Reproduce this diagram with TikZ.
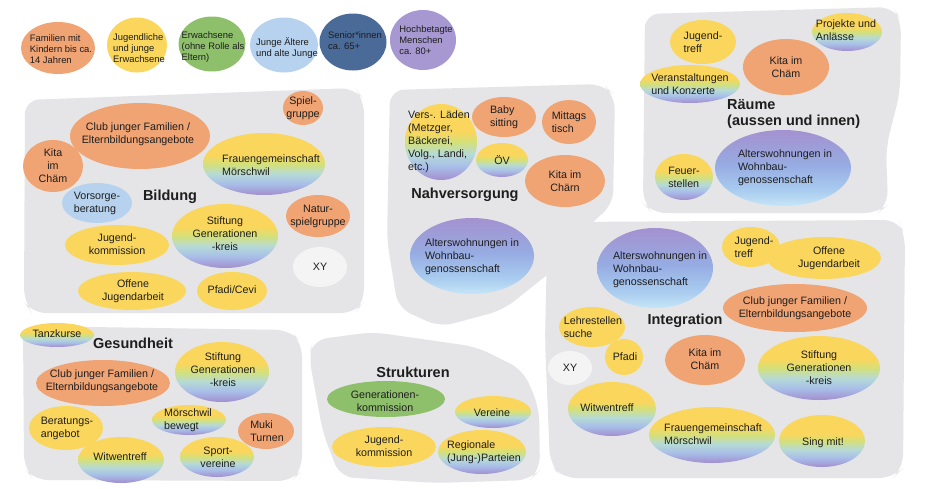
\documentclass[tikz,border=0pt]{standalone}
\usepackage{fontspec}
\setmainfont{Liberation Sans}
\usetikzlibrary{shapes.geometric}

\definecolor{corange}{RGB}{240,163,115}
\definecolor{cyellow}{RGB}{250,214,92}
\definecolor{cgreen}{RGB}{142,192,108}
\definecolor{clblue}{RGB}{182,210,238}
\definecolor{cdblue}{RGB}{74,106,152}
\definecolor{clav}{RGB}{168,152,210}
\definecolor{cgray}{RGB}{229,229,231}
\definecolor{cwhite}{RGB}{244,244,244}
\definecolor{ctext}{RGB}{30,30,30}
\definecolor{rpurple}{RGB}{162,142,206}
\definecolor{rblue}{RGB}{168,190,232}
\definecolor{rcyan}{RGB}{182,218,214}
\definecolor{rgreen}{RGB}{212,224,122}
\definecolor{apale}{RGB}{198,229,246}
\definecolor{alblue}{RGB}{170,205,240}
\definecolor{amblue}{RGB}{150,172,226}
\definecolor{apurple}{RGB}{164,145,208}

\pgfdeclareverticalshading{rainbow}{100bp}{color(0bp)=(rpurple); color(25bp)=(rpurple); color(34bp)=(rblue); color(42bp)=(rcyan); color(50bp)=(rgreen); color(57bp)=(cyellow); color(75bp)=(cyellow); color(100bp)=(cyellow)}
\pgfdeclareverticalshading{bluepurple}{100bp}{color(0bp)=(apale); color(25bp)=(apale); color(35bp)=(alblue); color(52bp)=(amblue); color(75bp)=(apurple); color(100bp)=(apurple)}

\tikzset{
  bub/.style={ellipse, inner sep=0pt, outer sep=0pt, draw=none},
  org/.style={fill=corange},
  ylw/.style={fill=cyellow},
  grn/.style={fill=cgreen},
  lbl/.style={fill=clblue},
  dbl/.style={fill=cdblue},
  lav/.style={fill=clav},
  xyb/.style={fill=cwhite},
  rnb/.style={shade, shading=rainbow},
  apt/.style={shade, shading=bluepurple},
  tx/.style={font=\fontsize{10.7}{13}\selectfont, align=center, text=ctext, inner sep=0pt},
  txl/.style={tx, align=left},
  hdr/.style={font=\fontsize{9.4}{10.8}\selectfont, align=left, text=ctext, inner sep=0pt},
  ttl/.style={font=\bfseries\fontsize{14.5}{16}\selectfont, text=ctext, inner sep=0pt, align=left},
  blob/.style={fill=cgray, rounded corners=14pt},
}
\newcommand\bubble[8]{%
  \node[bub,#1,minimum width=#4pt,minimum height=#5pt] (#2) at (#3) {};
  \node[#6] (#2-t) at (#7) {#8};}

\begin{document}
\begin{tikzpicture}[x=1pt,y=-1pt]
\useasboundingbox (0,0) rectangle (934,488);
\fill[white] (0,0) rectangle (934,488);

% ---------- header ----------
\bubble{org}{hfam}{58,48}{74}{52}{hdr}{61,49}{Familien mit\\Kindern bis ca.\\14 Jahren}
\bubble{ylw}{hjug}{137,45}{60}{55}{hdr}{139,48}{Jugendliche\\und junge\\Erwachsene}
\bubble{grn}{herw}{212,44}{67}{55}{hdr}{213,47}{Erwachsene\\(ohne Rolle als\\Eltern)}
\bubble{lbl}{hja}{284,45}{68}{55}{hdr}{287,48}{Junge Ältere\\und alte Junge}
\bubble{dbl}{hsen}{353,42}{67}{57}{hdr}{355,41}{Senior*innen\\ca. 65+}
\bubble{lav}{hhoch}{423,40}{66}{60}{hdr}{426,40}{Hochbetagte\\Menschen\\ca. 80+}

% ---------- blobs ----------
\fill[blob] (25,100) -- (355,88) -- (364,100) -- (364,302) -- (355,313) -- (32,313) -- (24,302) -- cycle;
\fill[blob] (390,90) -- (603,84) -- (615,96) -- (613,205) -- (592,222) -- (557,267) -- (503,310) -- (440,327) -- (398,308) -- (387,240) -- cycle;
\fill[blob] (645,14) -- (893,7) -- (901,20) -- (900,92) -- (886,148) -- (888,205) -- (878,213) -- (652,213) -- (643,203) -- cycle;
\fill[blob] (565,222) -- (898,220) -- (905,235) -- (903,468) -- (893,478) -- (562,478) -- (550,464) -- (545,340) -- (547,248) -- cycle;
\fill[blob] (23,326) -- (290,330) -- (302,343) -- (302,470) -- (292,481) -- (34,480) -- (24,468) -- cycle;
\fill[blob] (313,340) -- (373,332) -- (477,347) -- (523,370) -- (539,407) -- (540,470) -- (530,480) -- (437,483) -- (340,477) -- (323,433) -- (309,357) -- cycle;

% ---------- Bildung ----------
\bubble{org}{bclub}{140,136}{140}{66}{tx}{138,134}{Club junger Familien /\\Elternbildungsangebote}
\bubble{org}{bkita}{53,166}{60}{52}{tx}{53,166}{Kita\\im\\Chäm}
\bubble{org}{bspiel}{303,108}{40}{34}{tx}{303,108}{Spiel-\\gruppe}
\bubble{rnb}{bfrau}{264,164}{122}{62}{txl}{271,165}{Frauengemeinschaft\\Mörschwil}
\node[ttl] (bildung) at (170,197) {Bildung};
\bubble{lbl}{bvor}{97,203}{70}{40}{txl}{97,203}{Vorsorge-\\beratung}
\bubble{org}{bnatur}{318,216}{64}{42}{tx}{318,216}{Natur-\\spielgruppe}
\bubble{rnb}{bstift}{225,236}{106}{64}{tx}{225,234}{Stiftung\\Generationen\\-kreis}
\bubble{ylw}{bjk}{117,245}{104}{40}{tx}{117,244}{Jugend-\\kommission}
\bubble{xyb}{bxy}{320,267}{54}{40}{tx}{320,267}{XY}
\bubble{ylw}{boja}{132,291}{108}{38}{tx}{133,291}{Offene\\Jugendarbeit}
\bubble{ylw}{bpfadi}{232,291}{70}{38}{tx}{232,290}{Pfadi/Cevi}

% ---------- Nahversorgung ----------
\bubble{rnb}{nvers}{441,142}{72}{76}{txl}{439,142}{Vers-. Läden\\(Metzger,\\Bäckerei,\\Volg., Landi,\\etc.)}
\bubble{org}{nbaby}{504,117}{64}{40}{txl}{504,117}{Baby\\sitting}
\bubble{org}{nmittag}{569,122}{54}{44}{txl}{569,122}{Mittags\\tisch}
\bubble{rnb}{nov}{502,160}{52}{34}{tx}{502,160}{ÖV}
\bubble{org}{nkita}{565,181}{80}{52}{tx}{565,181}{Kita im\\Chärn}
\node[ttl] (nahv) at (465,195) {Nahversorgung};
\bubble{apt}{nalt}{472,256}{124}{76}{txl}{472,257}{Alterswohnungen in\\Wohnbau-\\genossenschaft}

% ---------- Räume ----------
\bubble{ylw}{rjt}{703,42}{66}{44}{txl}{703,42}{Jugend-\\treff}
\bubble{rnb}{rproj}{847,32}{70}{38}{txl}{846,30}{Projekte und\\Anlässe}
\bubble{org}{rkita}{786,67}{86}{56}{tx}{786,67}{Kita im\\Chäm}
\bubble{rnb}{rver}{690,84}{100}{38}{txl}{690,84}{Veranstaltungen\\und Konzerte}
\node[ttl, anchor=west] (raeume) at (727,114) {Räume\\(aussen und innen)};
\bubble{apt}{ralt}{783,168}{136}{76}{txl}{785,168}{Alterswohnungen in\\Wohnbau-\\genossenschaft}
\bubble{rnb}{rfeuer}{684,177}{58}{46}{txl}{684,177}{Feuer-\\stellen}

% ---------- Integration ----------
\bubble{apt}{ialt}{655,268}{116}{80}{txl}{660,270}{Alterswohnungen in\\Wohnbau-\\genossenschaft}
\bubble{ylw}{ijt}{751,247}{58}{40}{txl}{754,247}{Jugend-\\treff}
\bubble{ylw}{ioja}{824,258}{114}{42}{tx}{829,258}{Offene\\Jugendarbeit}
\bubble{org}{iclub}{795,308}{144}{48}{tx}{795,308}{Club junger Familien /\\Elternbildungsangebote}
\node[ttl] (integ) at (685,321) {Integration};
\bubble{ylw}{ileh}{592,327}{66}{40}{txl}{593,327}{Lehrestellen\\suche}
\bubble{ylw}{ipfadi}{624,357}{38}{36}{tx}{625,357}{Pfadi}
\bubble{xyb}{ixy}{570,368}{44}{34}{tx}{570,368}{XY}
\bubble{org}{ikita}{705,360}{80}{50}{tx}{705,359}{Kita im\\Chäm}
\bubble{rnb}{istift}{819,368}{122}{64}{tx}{819,368}{Stiftung\\Generationen\\-kreis}
\bubble{rnb}{iwit}{612,409}{88}{54}{tx}{607,408}{Witwentreff}
\bubble{rnb}{ifrau}{712,435}{126}{56}{txl}{713,434}{Frauengemeinschaft\\Mörschwil}
\bubble{rnb}{ising}{822,441}{86}{52}{tx}{823,443}{Sing mit!}

% ---------- Gesundheit ----------
\bubble{rnb}{gtanz}{57,335}{74}{24}{tx}{57,334}{Tanzkurse}
\node[ttl] (gesund) at (133,343) {Gesundheit};
\bubble{rnb}{gstift}{222,372}{94}{60}{tx}{223,370}{Stiftung\\Generationen\\-kreis}
\bubble{org}{gclub}{103,383}{134}{46}{tx}{102,381}{Club junger Familien /\\Elternbildungsangebote}
\bubble{ylw}{gber}{66,428}{74}{44}{txl}{67,428}{Beratungs-\\angebot}
\bubble{rnb}{gmoer}{189,420}{74}{30}{txl}{188,420}{Mörschwil\\bewegt}
\bubble{org}{gmuki}{266,431}{56}{36}{txl}{267,431}{Muki\\Turnen}
\bubble{rnb}{gwit}{121,460}{86}{46}{tx}{120,457}{Witwentreff}
\bubble{rnb}{gsport}{217,457}{74}{40}{tx}{218,457}{Sport-\\vereine}

% ---------- Strukturen ----------
\node[ttl] (strukt) at (413,372) {Strukturen};
\bubble{grn}{sgen}{386,399}{118}{36}{tx}{385,401}{Generationen-\\kommission}
\bubble{rnb}{sver}{493,412}{76}{32}{tx}{492,413}{Vereine}
\bubble{ylw}{sjk}{384,447}{104}{40}{tx}{384,446}{Jugend-\\kommission}
\bubble{rnb}{sreg}{482,452}{88}{44}{txl}{484,452}{Regionale\\(Jung-)Parteien}
\end{tikzpicture}
\end{document}
